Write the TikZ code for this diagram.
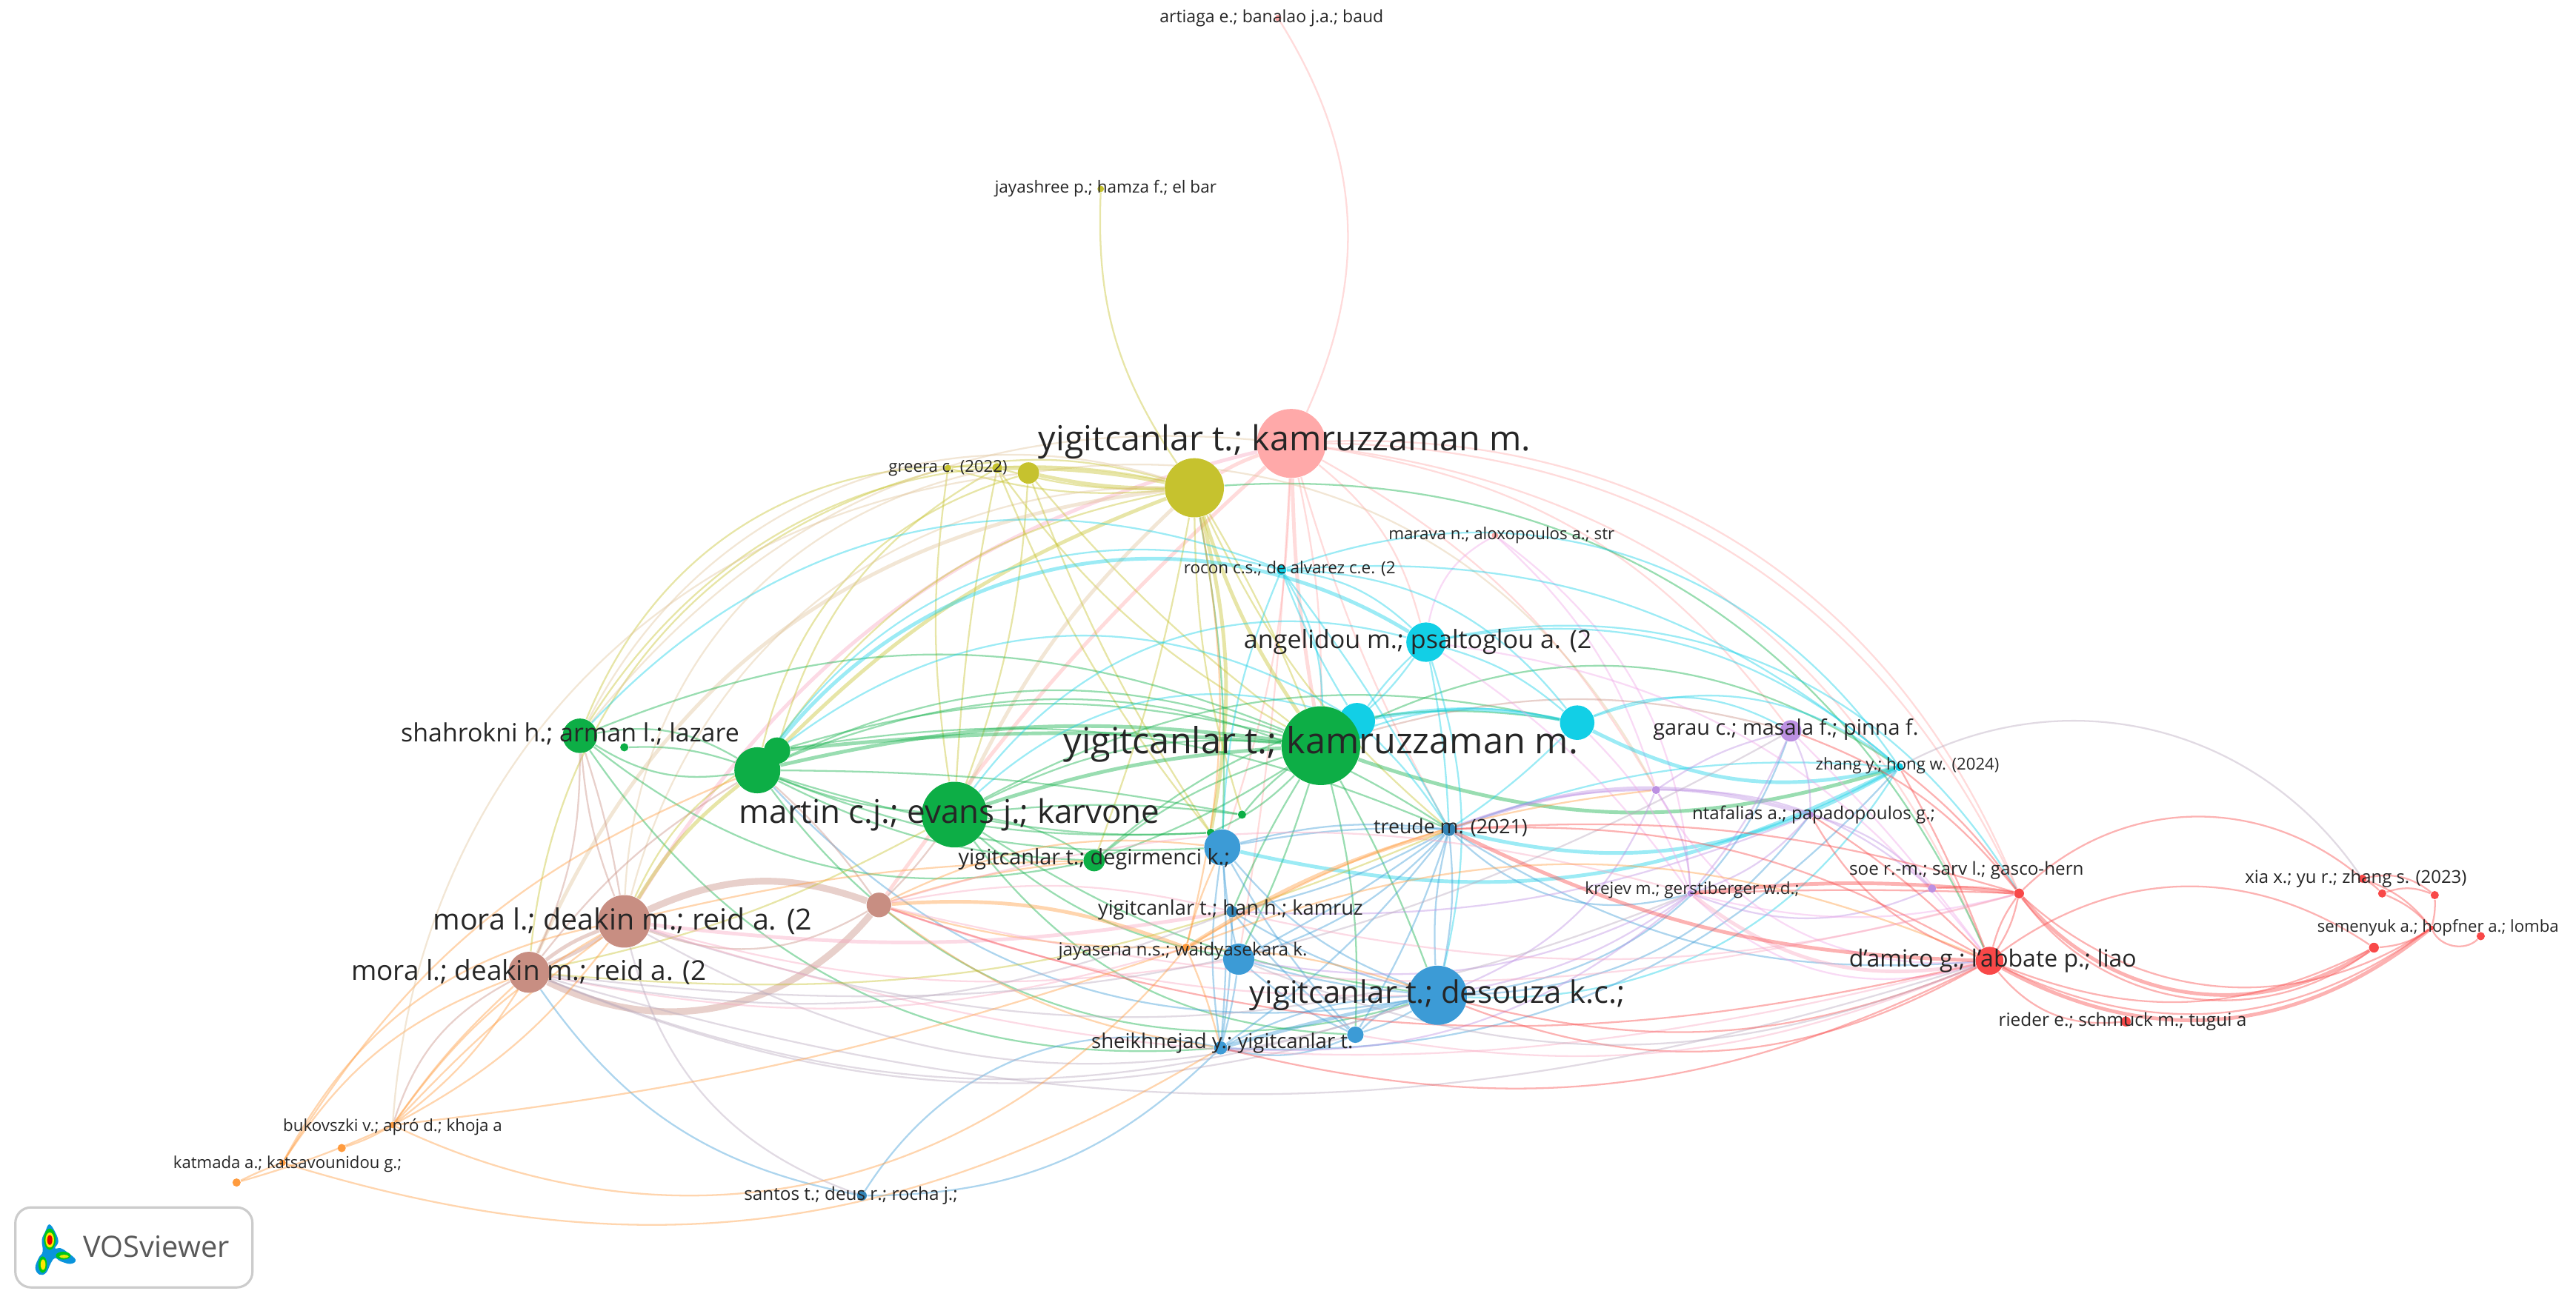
\documentclass[tikz,border=0pt]{standalone}
\usepackage{fontspec}
\setmainfont{Open Sans}
\usetikzlibrary{backgrounds}
\definecolor{cpink}{HTML}{FFA9A9}
\definecolor{colive}{HTML}{C6C22E}
\definecolor{cgreen}{HTML}{0DAE46}
\definecolor{ccyan}{HTML}{12CFE6}
\definecolor{cblue}{HTML}{3C9BD6}
\definecolor{csalmon}{HTML}{C88E82}
\definecolor{cred}{HTML}{F84848}
\definecolor{cpurple}{HTML}{BC90E2}
\definecolor{corange}{HTML}{FF9B3E}
\definecolor{cmauve}{HTML}{B8A8BC}
\definecolor{ctan}{HTML}{E0C49A}
\definecolor{crose}{HTML}{F8A8C0}
\definecolor{cmagenta}{HTML}{F0A8E8}
\tikzset{
 nd/.style={circle,inner sep=0pt,minimum size=#1*0.4435mm},
 lab/.style={font=\fontsize{#1}{#1}\selectfont,text=black!85,inner sep=0pt},
 lnk/.style={line width=0.65pt,opacity=0.42},
 thk/.style={line width=1.4pt},
 thkk/.style={line width=2.6pt},
 lpink/.style={lnk,draw=cpink},
 lolive/.style={lnk,draw=colive},
 lgreen/.style={lnk,draw=cgreen},
 lcyan/.style={lnk,draw=ccyan},
 lblue/.style={lnk,draw=cblue},
 lsalmon/.style={lnk,draw=csalmon},
 lred/.style={lnk,draw=cred},
 lpurple/.style={lnk,draw=cpurple},
 lorange/.style={lnk,draw=corange},
 lmauve/.style={lnk,draw=cmauve},
 ltan/.style={lnk,draw=ctan},
 lrose/.style={lnk,draw=crose},
 lmag/.style={lnk,draw=cmagenta},
}
\begin{document}
\begin{tikzpicture}[x=0.022175cm,y=-0.022175cm]
 \useasboundingbox (0,0) rectangle (1568,796.4);
 % pink and olive
 \node[nd=21,fill=cpink] (pA) at (786,270) {};
 \node[nd=2,fill=cpink] (pT) at (778,11) {};
 \node[nd=2,fill=cpink] (pM) at (910,326) {};
 \node[nd=18,fill=colive] (oA) at (727,297) {};
 \node[nd=6.5,fill=colive] (oB) at (626,288) {};
 \node[nd=3,fill=colive] (oC) at (607,285) {};
 \node[nd=2,fill=colive] (oD) at (577,285) {};
 \node[nd=2,fill=colive] (oT) at (670,115) {};
 % cyan
 \node[nd=3,fill=ccyan] (cR) at (780,347) {};
 \node[nd=12,fill=ccyan] (cA) at (868,391) {};
 \node[nd=11,fill=ccyan] (cB) at (826,439) {};
 \node[nd=10.5,fill=ccyan] (cC) at (960,440) {};
 \node[nd=2.5,fill=ccyan] (cZ) at (1156,467) {};
 % green
 \node[nd=24,fill=cgreen] (gA) at (804,454) {};
 \node[nd=20,fill=cgreen] (gB) at (581,496) {};
 \node[nd=8,fill=cgreen] (gD) at (473,457) {};
 \node[nd=14,fill=cgreen] (gC) at (461,469) {};
 \node[nd=10.5,fill=cgreen] (gE) at (353,448) {};
 \node[nd=2.5,fill=cgreen] (gF) at (380,455) {};
 \node[nd=6.5,fill=cgreen] (gG) at (666,524) {};
 \node[nd=2.5,fill=cgreen] (gH) at (756,496) {};
 \node[nd=2.5,fill=cgreen] (gI) at (737,507) {};
 % blue
 \node[nd=11,fill=cblue] (bA) at (744,516) {};
 \node[nd=4,fill=cblue!85!black] (bT) at (882,505) {};
 \node[nd=18,fill=cblue] (bD) at (875,606) {};
 \node[nd=3.5,fill=cblue!85!black] (bH) at (750,555) {};
 \node[nd=9.5,fill=cblue] (bJ) at (754,584) {};
 \node[nd=5,fill=cblue] (bK) at (825,630) {};
 \node[nd=4,fill=cblue] (bS) at (743,638) {};
 \node[nd=3,fill=cblue!85!black] (bN) at (524.6,728) {};
 % salmon and orange
 \node[nd=16,fill=csalmon] (sA) at (380,561) {};
 \node[nd=12.5,fill=csalmon] (sB) at (322,592) {};
 \node[nd=7.5,fill=csalmon] (sC) at (535,551) {};
 \node[nd=2.5,fill=corange] (yJ) at (722,577) {};
 \node[nd=2.5,fill=corange] (yK) at (208,699) {};
 \node[nd=2.5,fill=corange] (yL) at (144,720) {};
 \node[nd=2,fill=corange] (yM) at (172,708) {};
 \node[nd=2,fill=corange] (yN) at (239,685) {};
 % purple
 \node[nd=6.5,fill=cpurple] (uG) at (1090,445) {};
 \node[nd=2,fill=cpurple] (uN) at (1102,496) {};
 \node[nd=2.5,fill=cpurple] (uP) at (1008,481) {};
 \node[nd=2,fill=cpurple] (uK) at (1029,544) {};
 \node[nd=2.5,fill=cpurple] (uS) at (1176,541) {};
 % red
 \node[nd=3,fill=cred] (rG) at (1229,544) {};
 \node[nd=8.5,fill=cred] (rD) at (1211,585) {};
 \node[nd=3,fill=cred] (rR) at (1294,622) {};
 \node[nd=2.5,fill=cred] (rX) at (1438,535) {};
 \node[nd=2.5,fill=cred] (rY) at (1450,544) {};
 \node[nd=2.5,fill=cred] (rZ) at (1482,545) {};
 \node[nd=3,fill=cred] (rS) at (1445,577) {};
 \node[nd=1.5,fill=cred] (rH) at (1480,565) {};
 \node[nd=2.5,fill=cred] (rL) at (1510,570) {};
 %
 \node[lab=6.55] (lpT) at (774,11) {artiaga e.; banalao j.a.; baud};
 \node[lab=6.4] (loT) at (673,115) {jayashree p.; hamza f.; el bar};
 \node[lab=13.25] (lpA) at (782,269) {yigitcanlar t.; kamruzzaman m.};
 \node[lab=6.3] (loD) at (577,285) {greera c. (2022)};
 \node[lab=6.35] (lpM) at (914,326) {marava n.; aloxopoulos a.; str};
 \node[lab=6.4] (lcR) at (785,346) {rocon c.s.; de alvarez c.e. (2};
 \node[lab=9.7] (lcA) at (863,391) {angelidou m.; psaltoglou a. (2};
 \node[lab=8.2] (luG) at (1087,444) {garau c.; masala f.; pinna f.};
 \node[lab=9.65] (lgE) at (347,447) {shahrokni h.; arman l.; lazare};
 \node[lab=13.85] (lgA) at (804,453) {yigitcanlar t.; kamruzzaman m.};
 \node[lab=6.3] (lcZ) at (1161,466) {zhang y.; hong w. (2024)};
 \node[lab=12.5] (lgB) at (578,496) {martin c.j.; evans j.; karvone};
 \node[lab=6.85] (luN) at (1104,496) {ntafalias a.; papadopoulos g.;};
 \node[lab=7.6] (lbT) at (883,504) {treude m. (2021)};
 \node[lab=8.2] (lgG) at (666,523) {yigitcanlar t.; degirmenci k.;};
 \node[lab=6.9] (luS) at (1197,530) {soe r.-m.; sarv l.; gasco-hern};
 \node[lab=6.4] (luK) at (1030,542) {krejev m.; gerstiberger w.d.;};
 \node[lab=7.75] (lbH) at (749,554) {yigitcanlar t.; han h.; kamruz};
 \node[lab=11.2] (lsA) at (379,561) {mora l.; deakin m.; reid a. (2};
 \node[lab=6.9] (lyJ) at (720,579) {jayasena n.s.; waidyasekara k.};
 \node[lab=9.1] (lrD) at (1213,585) {d'amico g.; l'abbate p.; liao};
 \node[lab=10.5] (lsB) at (322,592) {mora l.; deakin m.; reid a. (2};
 \node[lab=6.3] (lrH) at (1484,565) {semenyuk a.; hopfner a.; lomba};
 \node[lab=6.8] (lrX) at (1434,535) {xia x.; yu r.; zhang s. (2023)};
 \node[lab=11.9] (lbD) at (875,606) {yigitcanlar t.; desouza k.c.;};
 \node[lab=6.95] (lrR) at (1292,622) {rieder e.; schmuck m.; tugui a};
 \node[lab=7.85] (lbS) at (744,635) {sheikhnejad y.; yigitcanlar t.};
 \node[lab=6.35] (lyN) at (239,686) {bukovszki v.; apró d.; khoja a};
 \node[lab=6.3] (lyM) at (175,709) {katmada a.; katsavounidou g.;};
 \node[lab=6.9] (lbN) at (518,728) {santos t.; deus r.; rocha j.;};
 %
 \begin{scope}[on background layer]
 % pink
 \draw[lpink] (pT) to[bend left=28] (pA) ;
 \draw[lpink,thk] (oA) to[bend left=5] (pA) ;
 \draw[lpink] (pA) to[bend left=6] (gA) ;
 \draw[lpink,thk] (pA) to[bend right=4] (gA) ;
 \draw[lpink,thk] (sC) to[bend left=6] (pA) ;
 \draw[lrose,thk] (sA) to[bend left=22] (pA) ;
 \draw[lpink] (pA) to[bend left=8] (bA) ;
 \draw[lpink] (pA) to[bend right=6] (bT) ;
 \draw[lpink] (pA) to[bend left=3] (bJ) ;
 \draw[lpink] (pA) to[bend left=18] (cA) ;
 \draw[lpink] (pA) to[bend left=22] (uG) ;
 \draw[lpink] (pA) to[bend left=32] (rG) ;
 \draw[lpink] (pA) to[bend left=30] (rD) ;
 \draw[lpink] (pA) to[bend left=35] (rG) ;
 \draw[lpink] (pA) to[bend left=15] (uP) ;
 \draw[lmag] (pM) to[bend right=25] (cA) ;
 \draw[lmag] (pM) to[bend left=25] (uK) ;
 \draw[lmag] (pM) to[bend left=15] (uP) ;
 \draw[lgreen] (oA) to[bend left=35] (rD) ;
 \draw[ltan] (oB) to[bend left=35] (uP) ;
 % olive
 \draw[lolive] (oT) to[bend right=18] (oA) ;
 \draw[lolive,thk] (oB) to[bend right=6] (oA) ;
 \draw[lolive] (oC) to[bend right=8] (oA) ;
 \draw[lolive,thk] (oC) to[bend left=5] (oA) ;
 \draw[lolive] (oD) to[bend right=10] (oA) ;
 \draw[lolive] (oD) to[bend left=12] (oA) ;
 \draw[lolive] (oC) to[bend right=12] (gA) ;
 \draw[lolive] (oB) to[bend right=6] (gA) ;
 \draw[lolive] (oD) to[bend right=8] (gB) ;
 \draw[lolive] (oC) to[bend right=4] (gB) ;
 \draw[lolive] (oB) to[bend left=8] (gB) ;
 \draw[lolive] (gC) to[bend left=30] (oB) ;
 \draw[lolive] (gD) to[bend left=22] (oC) ;
 \draw[lolive] (gE) to[bend left=36] (oC) ;
 \draw[lolive] (gE) to[bend left=35] (oA) ;
 \draw[lolive] (gC) to[bend left=22] (oA) ;
 \draw[lolive,thk] (gC) to[bend left=12] (oA) ;
 \draw[lolive] (sB) to[bend left=35] (oD) ;
 \draw[ltan] (sA) to[bend left=38] (oA) ;
 \draw[ltan,thk] (sB) to[bend left=30] (oA) ;
 \draw[ltan] (sA) to[bend left=38] (oC) ;
 \draw[ltan,thk] (gB) to[bend left=10] (oA) ;
 \draw[lolive] (oA) to[bend left=5] (gG) ;
 \draw[lolive,thk] (oA) to[bend left=12] (gI) ;
 \draw[lolive] (oA) to[bend right=8] (gH) ;
 \draw[lolive,thk] (oA) to[bend right=8] (gA) ;
 \draw[lolive] (oA) to[bend left=4] (gA) ;
 \draw[lolive] (oA) to[bend right=12] (bT) ;
 \draw[lolive] (oB) to[bend right=6] (gI) ;
 \draw[lolive] (oC) to[bend right=8] (bA) ;
 \draw[lgreen] (oA) to[bend left=6] (bA) ;
 % green
 \draw[lgreen,thk] (gC) to[bend left=10] (gA) ;
 \draw[lgreen] (gC) to[bend left=22] (gA) ;
 \draw[lgreen] (gD) to[bend left=15] (gA) ;
 \draw[lgreen,thk] (gD) to[bend left=5] (gA) ;
 \draw[lgreen] (gE) to[bend left=22] (gA) ;
 \draw[lgreen] (gB) to[bend left=15] (gA) ;
 \draw[lgreen,thk] (gB) to[bend left=7] (gA) ;
 \draw[lgreen] (gG) to[bend left=10] (gA) ;
 \draw[lgreen] (gC) to[bend right=10] (gI) ;
 \draw[lgreen] (gC) to[bend left=5] (gH) ;
 \draw[lgreen] (gB) to[bend left=6] (gH) ;
 \draw[lgreen] (gB) to[bend right=6] (gI) ;
 \draw[lgreen] (gC) to[bend right=8] (gB) ;
 \draw[lgreen,thk] (gD) to[bend right=6] (gC) ;
 \draw[lgreen] (gE) to[bend left=20] (gC) ;
 \draw[lgreen] (gE) to[bend right=20] (gC) ;
 \draw[lgreen] (gF) to[bend left=10] (gC) ;
 \draw[lgreen] (gE) to[bend right=25] (gG) ;
 \draw[lgreen] (gC) to[bend right=12] (gG) ;
 \draw[lgreen] (gB) to[bend left=12] (gG) ;
 \draw[lgreen] (gA) to[bend left=6] (gG) ;
 \draw[lgreen] (gI) to[bend right=10] (gA) ;
 \draw[lgreen] (gH) to[bend left=6] (gA) ;
 \draw[lgreen] (gC) to[bend right=35] (bD) ;
 \draw[lgreen] (gE) to[bend right=30] (bS) ;
 \draw[lgreen] (gB) to[bend right=25] (bK) ;
 \draw[lgreen] (gA) to[bend right=4] (bH) ;
 \draw[lgreen] (gA) to[bend left=4] (bJ) ;
 \draw[lgreen] (gA) to[bend left=8] (bK) ;
 \draw[lgreen] (gA) to[bend left=4] (bD) ;
 \draw[lgreen] (gC) to[bend left=28] (bT) ;
 \draw[lgreen] (gD) to[bend left=16] (bT) ;
 \draw[lgreen] (gC) to[bend right=12] (bA) ;
 \draw[lgreen] (gB) to[bend right=15] (bJ) ;
 \draw[ltan] (gE) to[bend left=28] (pA) ;
 \draw[lgreen] (gB) to[bend right=12] (bD) ;
 \draw[lgreen] (gB) to[bend left=20] (cC) ;
 \draw[lgreen] (gG) to[bend left=25] (cC) ;
 \draw[lsalmon] (gA) to[bend left=15] (uG) ;
 \draw[lgreen] (gA) to[bend left=30] (cZ) ;
 \draw[lgreen,thk] (gA) to[bend right=18] (cZ) ;
 % cyan
 \draw[lcyan] (gE) to[bend left=34] (cR) ;
 \draw[lcyan] (gC) to[bend left=35] (cR) ;
 \draw[lcyan,thk] (gC) to[bend left=42] (cA) ;
 \draw[lcyan] (gD) to[bend left=34] (cB) ;
 \draw[lcyan] (gB) to[bend left=34] (cA) ;
 \draw[lcyan] (gB) to[bend left=30] (cB) ;
 \draw[lcyan] (cR) to[bend left=18] (cA) ;
 \draw[lcyan] (cR) to[bend left=25] (cC) ;
 \draw[lcyan] (cR) to[bend right=5] (cB) ;
 \draw[lcyan] (cR) to[bend left=38] (cZ) ;
 \draw[lcyan] (cR) to[bend left=22] (cZ) ;
 \draw[lcyan] (cR) to[bend right=10] (bA) ;
 \draw[lcyan] (cR) to[bend left=4] (bT) ;
 \draw[lcyan] (cR) to[bend left=15] (gA) ;
 \draw[lcyan] (cA) to[bend left=12] (cC) ;
 \draw[lcyan] (cA) to[bend left=35] (rG) ;
 \draw[lcyan] (cA) to[bend left=25] (cZ) ;
 \draw[lcyan] (cA) to[bend left=4] (bT) ;
 \draw[lcyan] (cA) to[bend right=5] (cB) ;
 \draw[lcyan] (cA) to[bend left=8] (gA) ;
 \draw[lcyan,thk] (cB) to[bend left=10] (cC) ;
 \draw[lcyan] (gA) to[bend left=16] (cC) ;
 \draw[lcyan] (cB) to[bend left=6] (bT) ;
 \draw[lcyan] (cC) to[bend left=28] (cZ) ;
 \draw[lcyan,thk] (cC) to[bend right=20] (cZ) ;
 \draw[lcyan] (cC) to[bend left=5] (bT) ;
 \draw[lcyan] (bT) to[bend left=12] (cZ) ;
 \draw[lcyan,thk] (bT) to[bend right=22] (cZ) ;
 \draw[lcyan,thk] (bA) to[bend right=20] (cZ) ;
 \draw[lcyan] (bD) to[bend right=30] (cZ) ;
 \draw[lcyan] (cA) to[bend left=15] (bD) ;
 \draw[lmauve] (cZ) to[bend left=42] (rX) ;
 \draw[lcyan] (cC) to[bend left=25] (uG) ;
 % blue
 \draw[lblue] (bT) to[bend left=8] (bD) ;
 \draw[lblue] (bT) to[bend right=8] (bD) ;
 \draw[lblue] (bT) to[bend left=8] (bH) ;
 \draw[lblue] (bT) to[bend right=10] (bA) ;
 \draw[lblue] (bT) to[bend left=14] (bJ) ;
 \draw[lblue] (bT) to[bend left=4] (bJ) ;
 \draw[lblue] (bT) to[bend left=6] (bK) ;
 \draw[lblue] (bT) to[bend left=8] (bS) ;
 \draw[lblue] (bT) to[bend right=30] (uK) ;
 \draw[lblue] (bT) to[bend right=18] (rD) ;
 \draw[lblue] (bA) to[bend right=14] (bD) ;
 \draw[lblue] (bA) to[bend right=4] (bJ) ;
 \draw[lblue] (bA) to[bend left=4] (bS) ;
 \draw[lblue] (bA) to[bend right=8] (bS) ;
 \draw[lblue] (bA) to[bend right=6] (bK) ;
 \draw[lblue] (bA) to[bend left=6] (bT) ;
 \draw[lblue] (bH) to[bend right=8] (bD) ;
 \draw[lblue] (bH) to[bend right=6] (bK) ;
 \draw[lblue] (bH) to[bend left=4] (bS) ;
 \draw[lblue] (bJ) to[bend left=4] (bS) ;
 \draw[lblue] (bJ) to[bend right=5] (bD) ;
 \draw[lblue] (bJ) to[bend right=8] (bK) ;
 \draw[lblue] (bS) to[bend left=12] (bD) ;
 \draw[lblue,thk] (bS) to[bend left=2] (bD) ;
 \draw[lblue] (bS) to[bend right=18] (bK) ;
 \draw[lblue] (bK) to[bend right=6] (bD) ;
 \draw[lblue] (bK) to[bend left=14] (bD) ;
 \draw[lblue] (bN) to[bend left=35] (bS) ;
 \draw[lblue] (bS) to[bend left=22] (bN) ;
 \draw[lblue] (bD) to[bend right=32] (uG) ;
 \draw[lblue] (bD) to[bend right=25] (uN) ;
 \draw[lblue] (bS) to[bend right=25] (cZ) ;
 \draw[lblue] (gC) to[bend right=28] (bD) ;
 % purple
 \draw[lpurple] (uG) to[bend right=10] (uP) ;
 \draw[lpurple] (uG) to[bend left=8] (uK) ;
 \draw[lpurple] (uG) to[bend left=12] (uN) ;
 \draw[lpurple] (uN) to[bend left=15] (uK) ;
 \draw[lpurple] (uP) to[bend left=15] (uK) ;
 \draw[lpurple] (uK) to[bend right=22] (uS) ;
 \draw[lpurple] (uP) to[bend left=20] (uS) ;
 \draw[lpurple] (uN) to[bend left=15] (uS) ;
 \draw[lpurple] (bD) to[bend right=12] (uK) ;
 \draw[lpurple] (bD) to[bend right=22] (uP) ;
 \draw[lpurple] (bJ) to[bend right=18] (uK) ;
 \draw[lpurple] (bH) to[bend right=12] (uN) ;
 \draw[lpurple] (bS) to[bend right=22] (uK) ;
 \draw[lpurple] (bT) to[bend left=10] (uP) ;
 \draw[lpurple,thk] (bT) to[bend left=18] (uN) ;
 \draw[lmag] (uP) to[bend right=32] (rD) ;
 \draw[lmag] (uK) to[bend right=30] (rD) ;
 \draw[lmag] (uK) to[bend right=14] (rG) ;
 \draw[lmag] (uG) to[bend left=4] (rD) ;
 \draw[lmag] (cA) to[bend left=10] (uK) ;
 \draw[lmag] (cA) to[bend left=22] (rD) ;
 \draw[lmag] (cC) to[bend left=12] (uK) ;
 % salmon
 \draw[lsalmon,thkk] (sA) to[bend left=22] (sC) ;
 \draw[lsalmon,thkk] (sB) to[bend right=38] (sC) ;
 \draw[lsalmon,thk] (sB) to[bend left=8] (sA) ;
 \draw[lsalmon,thk] (sB) to[bend right=6] (sA) ;
 \draw[lsalmon] (sA) to[bend right=25] (sC) ;
 \draw[lolive,thk] (sA) to[bend left=10] (gC) ;
 \draw[lolive] (sA) to[bend left=18] (gD) ;
 \draw[lsalmon] (sA) to[bend left=8] (gE) ;
 \draw[lsalmon] (sA) to[bend right=4] (gE) ;
 \draw[lsalmon] (sB) to[bend right=12] (gE) ;
 \draw[lsalmon] (sB) to[bend left=10] (gC) ;
 \draw[lolive] (sB) to[bend right=8] (gB) ;
 \draw[lsalmon] (sC) to[bend right=6] (gC) ;
 \draw[lsalmon] (sC) to[bend right=4] (gB) ;
 \draw[lorange,thk] (sC) to[bend left=12] (yJ) ;
 \draw[lorange] (sC) to[bend right=8] (yJ) ;
 \draw[lorange] (sC) to[bend left=6] (gG) ;
 \draw[lorange] (sC) to[bend left=16] (bA) ;
 \draw[lorange] (sC) to[bend right=14] (bS) ;
 \draw[lrose] (sC) to[bend left=12] (bH) ;
 \draw[lrose] (sC) to[bend left=16] (uK) ;
 \draw[lrose] (sC) to[bend right=10] (bD) ;
 \draw[lrose] (sA) to[bend right=12] (bJ) ;
 \draw[lrose,thk] (sA) to[bend right=8] (bH) ;
 \draw[lorange] (sA) to[bend left=6] (gG) ;
 \draw[lmauve] (sA) to[bend right=20] (uK) ;
 \draw[lmauve] (sA) to[bend right=24] (bD) ;
 \draw[lmauve] (sB) to[bend right=18] (bK) ;
 \draw[lmauve] (sB) to[bend right=20] (bD) ;
 \draw[lrose] (sB) to[bend right=14] (yJ) ;
 \draw[lolive] (sB) to[bend right=14] (bT) ;
 \draw[lmauve] (sB) to[bend right=16] (bH) ;
 \draw[lmauve] (sB) to[bend right=18] (uG) ;
 \draw[lrose] (sA) to[bend right=16] (rD) ;
 \draw[lmauve] (sB) to[bend right=17] (rD) ;
 \draw[lred] (sC) to[bend right=16] (rD) ;
 \draw[lrose] (sC) to[bend right=14] (rG) ;
 \draw[lmauve] (bN) to[bend left=28] (sA) ;
 \draw[lblue] (bN) to[bend left=22] (sB) ;
 % orange
 \draw[lorange] (yL) to[bend right=4] (yN) ;
 \draw[lorange] (yL) to[bend left=3] (yM) ;
 \draw[lorange] (yK) to[bend right=6] (yN) ;
 \draw[lorange] (yM) to[bend left=18] (sB) ;
 \draw[lorange] (yM) to[bend left=25] (sA) ;
 \draw[lorange] (yM) to[bend left=18] (gC) ;
 \draw[lsalmon] (yN) to[bend left=22] (sB) ;
 \draw[lorange] (yN) to[bend right=10] (sB) ;
 \draw[lorange] (yN) to[bend left=6] (sB) ;
 \draw[lorange] (yN) to[bend left=5] (sA) ;
 \draw[lorange] (yN) to[bend right=12] (sA) ;
 \draw[lorange] (yN) to[bend left=12] (sA) ;
 \draw[lorange] (yN) to[bend right=6] (yJ) ;
 \draw[lorange] (yN) to[bend right=38] (yJ) ;
 \draw[lorange] (yM) to[bend right=24] (bS) ;
 \draw[lorange] (yJ) to[bend right=12] (oA) ;
 \draw[lorange] (yJ) to[bend left=8] (bD) ;
 \draw[lorange,thk] (yJ) to[bend left=8] (bT) ;
 \draw[lorange] (yJ) to[bend left=4] (bS) ;
 \draw[lorange] (yJ) to[bend left=5] (bA) ;
 \draw[lorange] (yJ) to[bend left=12] (uP) ;
 \draw[lorange] (yJ) to[bend left=22] (rD) ;
 \draw[ltan] (gE) to[bend left=40] (oA) ;
 \draw[ltan] (yN) to[bend left=40] (oB) ;
 % red
 \draw[lred,thk] (rG) to[bend right=42] (rS) ;
 \draw[lred] (rG) to[bend right=46] (rS) ;
 \draw[lred] (rG) to[bend right=38] (rH) ;
 \draw[lred] (rG) to[bend left=42] (rX) ;
 \draw[lred] (rD) to[bend left=35] (rS) ;
 \draw[lred] (rD) to[bend right=24] (rS) ;
 \draw[lred] (rD) to[bend right=31] (rH) ;
 \draw[lred,thk] (rD) to[bend right=34] (rH) ;
 \draw[lred] (rD) to[bend right=28] (rR) ;
 \draw[lred] (rD) to[bend right=10] (rG) ;
 \draw[lred] (rD) to[bend left=10] (rG) ;
 \draw[lred] (rX) to[bend left=8] (rY) ;
 \draw[lred] (rX) to[bend left=25] (rZ) ;
 \draw[lred] (rY) to[bend left=20] (rZ) ;
 \draw[lred] (rX) to[bend left=15] (rH) ;
 \draw[lred] (rY) to[bend left=12] (rH) ;
 \draw[lred] (rH) to[bend right=8] (rZ) ;
 \draw[lred] (rS) to[bend right=15] (rH) ;
 \draw[lred] (rH) to[bend right=55] (rL) ;
 \draw[lred,thk] (uK) to[bend left=6] (rG) ;
 \draw[lrose,thk] (uK) to[bend right=24] (rD) ;
 \draw[lred] (uS) to[bend left=8] (rG) ;
 \draw[lred] (uK) to[bend left=2] (rG) ;
 \draw[lred] (uN) to[bend right=20] (rD) ;
 \draw[lred] (uG) to[bend left=15] (rG) ;
 \draw[lred] (cZ) to[bend left=8] (rG) ;
 \draw[lred] (cZ) to[bend left=4] (rD) ;
 \draw[lred] (uN) to[bend left=6] (rD) ;
 \draw[lred] (bT) to[bend left=10] (rG) ;
 \draw[lred,thk] (bT) to[bend right=12] (rD) ;
 \draw[lred] (bT) to[bend left=16] (rD) ;
 \draw[lred] (bD) to[bend right=18] (rD) ;
 \draw[lred] (bD) to[bend right=25] (rD) ;
 \draw[lred] (bS) to[bend right=20] (rD) ;
 \draw[lrose] (bK) to[bend right=16] (rD) ;
 \draw[lmauve] (bJ) to[bend right=22] (rD) ;
 \draw[lrose] (bH) to[bend right=14] (rG) ;
 \end{scope}
 % logo box
 \node[draw=black!20,line width=0.9pt,rounded corners=6pt,fill=white,inner sep=0pt,minimum width=3.2cm,minimum height=1.08cm] (logobox) at (81.5,759.5) {};
 \node[lab=11.3,text=black!65,anchor=west] (logotext) at (50.5,759) {VOSviewer};
 \fill[cyan!80!blue] plot[smooth cycle,tension=0.7] coordinates {(30,745.5) (33.5,750) (35.5,756) (33.5,760) (37,760) (41,762.5) (46,767) (43,769.5) (37,768) (33.5,766) (31,769) (28,775) (24,776) (21.5,772) (23.5,766) (26,762) (25.5,755) (27.5,750)};
 \fill[green!75!black!90!cyan] (30.3,754.5) ellipse (3.6 and 6.5);
 \fill[green!75!black!90!cyan] (26,770) ellipse (2.6 and 5) ;
 \fill[green!75!black!90!cyan] (38.5,764.5) ellipse (4.5 and 2.4);
 \fill[yellow!90!orange] (30.3,755) ellipse (2.6 and 4.6);
 \fill[yellow!90!orange] (26.2,770) ellipse (1.5 and 3.2) ;
 \fill[yellow!90!green] (39,765) ellipse (2.8 and 1);
 \fill[red!90!black] (30.3,755) ellipse (1.6 and 3);
\end{tikzpicture}
\end{document}
